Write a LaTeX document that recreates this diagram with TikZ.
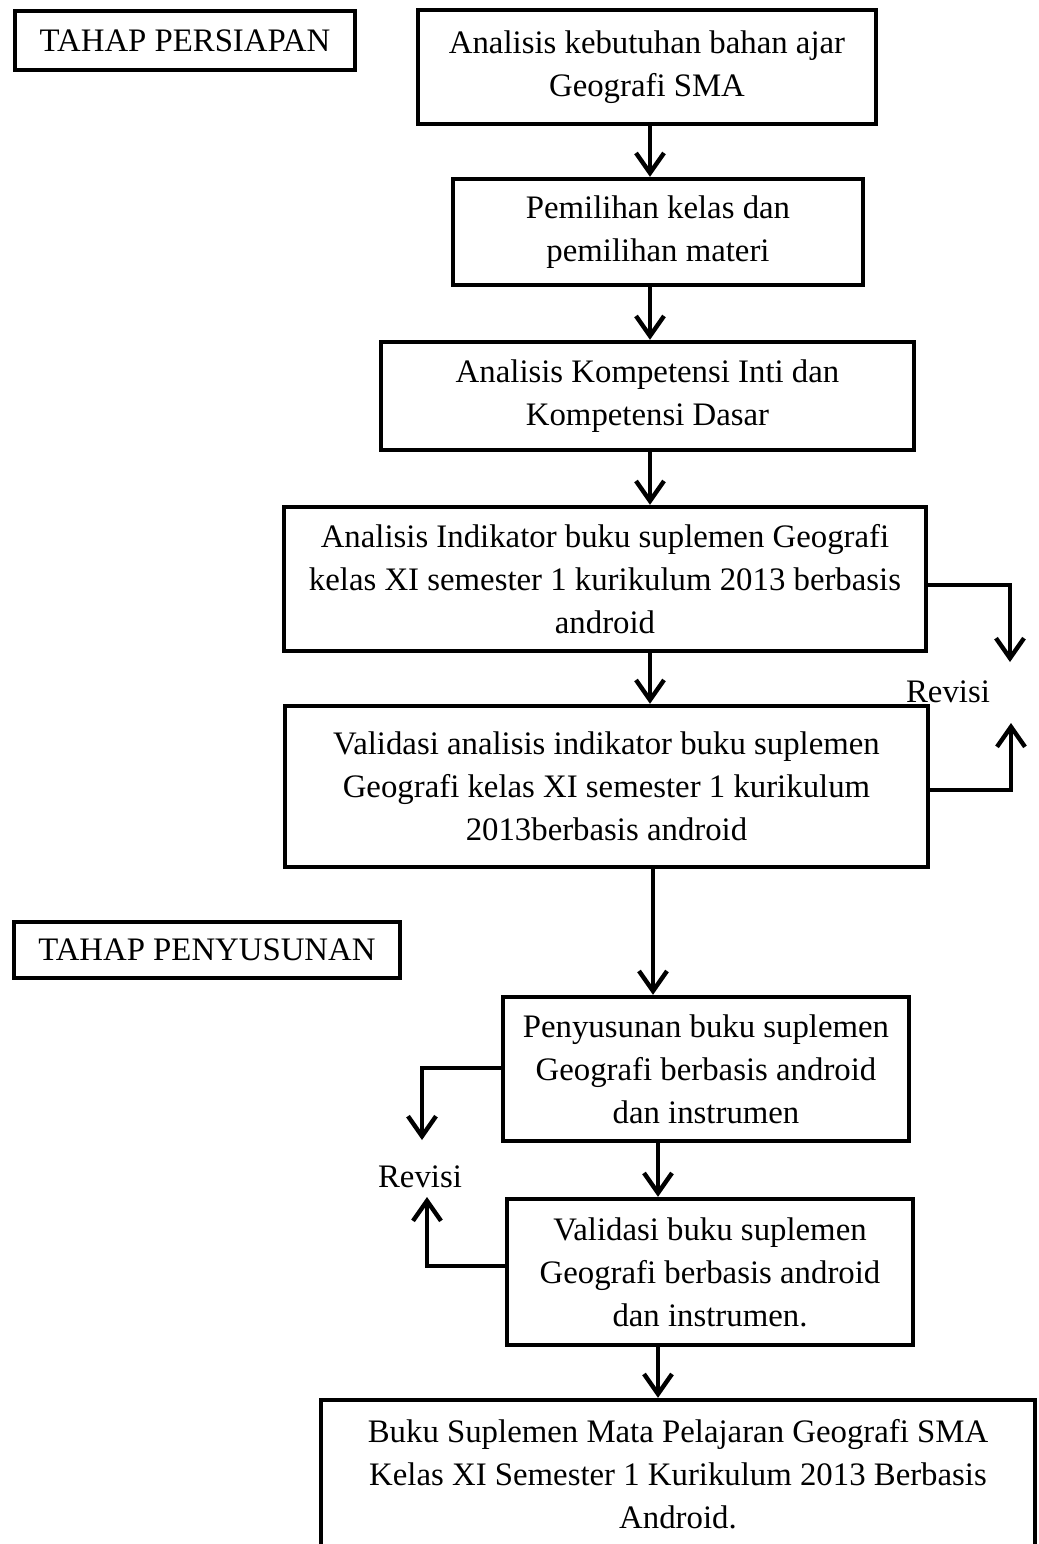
\documentclass[tikz,border=0pt]{standalone}
\usepackage{fontspec}
\setmainfont{Liberation Serif}
\usetikzlibrary{arrows.meta, calc}

\begin{document}
\begin{tikzpicture}[
    x=0.5pt, y=-0.5pt,
    >={Straight Barb[length=10pt, width=14pt]},
    font=\fontsize{16.4}{21.5}\selectfont,
    block/.style = {draw, rectangle, line width=2.2pt, inner sep=0pt, align=center},
    stage/.style = {draw, rectangle, line width=2.2pt, inner sep=0pt, align=center},
    arrow/.style = {->, line width=2.2pt}
]
\useasboundingbox (0,0) rectangle (1039,1544);

% =========================================================
% STAGE LABELS
% =========================================================
\node[stage, minimum width=170pt, minimum height=29.5pt] (persiapan) at (185,40.5) {TAHAP PERSIAPAN};
\node[stage, minimum width=193pt, minimum height=28pt] (penyusunan) at (207,950) {TAHAP PENYUSUNAN};

% =========================================================
% MAIN CHAIN: Persiapan
% =========================================================
\node[block, minimum width=229pt, minimum height=57pt] (kebutuhan) at (647,67)
    {Analisis kebutuhan bahan ajar\\Geografi SMA};
\node[block, minimum width=205pt, minimum height=53pt] (kelas) at (658,232)
    {Pemilihan kelas dan\\pemilihan materi};
\node[block, minimum width=266.5pt, minimum height=54pt] (kikd) at (647.5,396)
    {Analisis Kompetensi Inti dan\\Kompetensi Dasar};
\node[block, minimum width=321pt, minimum height=72pt] (indikator) at (605,579)
    {Analisis Indikator buku suplemen Geografi\\kelas XI semester 1 kurikulum 2013 berbasis\\android};
\node[block, minimum width=321.5pt, minimum height=80.5pt] (valind) at (606.5,786.5)
    {Validasi analisis indikator buku suplemen\\Geografi kelas XI semester 1 kurikulum\\2013berbasis android};

% =========================================================
% MAIN CHAIN: Penyusunan
% =========================================================
\node[block, minimum width=203pt, minimum height=72pt] (susun) at (706,1069)
    {Penyusunan buku suplemen\\Geografi berbasis android\\dan instrumen};
\node[block, minimum width=203pt, minimum height=73pt] (valbuku) at (710,1272)
    {Validasi buku suplemen\\Geografi berbasis android\\dan instrumen.};
\node[block, minimum width=357pt, minimum height=74pt] (produk) at (678,1474)
    {Buku Suplemen Mata Pelajaran Geografi SMA\\Kelas XI Semester 1 Kurikulum 2013 Berbasis\\Android.};

% Revision labels
\node (revisiR) at (948,692) {Revisi};
\node (revisiL) at (420,1177) {Revisi};

% =========================================================
% WIRING: DOWNWARD FLOW
% =========================================================
\coordinate (spineA) at (650,0);
\coordinate (spineB) at (653,0);
\coordinate (spineC) at (658,0);
\draw[arrow] (kebutuhan.south -| spineA) -- (kelas.north -| spineA);
\draw[arrow] (kelas.south -| spineA) -- (kikd.north -| spineA);
\draw[arrow] (kikd.south -| spineA) -- (indikator.north -| spineA);
\draw[arrow] (indikator.south -| spineA) -- (valind.north -| spineA);
\draw[arrow] (valind.south -| spineB) -- (susun.north -| spineB);
\draw[arrow] (susun.south -| spineC) -- (valbuku.north -| spineC);
\draw[arrow] (valbuku.south -| spineC) -- (produk.north -| spineC);

% =========================================================
% WIRING: REVISION LOOPS
% =========================================================
\coordinate (r_top) at (1010,662);
\coordinate (r_bot) at (1011,723);
\draw[arrow] ($(indikator.east)+(0,6)$) -| (r_top);
\draw[arrow] ($(valind.east)+(0,3.5)$) -| (r_bot);

\coordinate (l_top) at (422,1140);
\coordinate (l_bot) at (427,1197);
\draw[arrow] ($(susun.west)+(0,-1)$) -| (l_top);
\draw[arrow] ($(valbuku.west)+(0,-6)$) -| (l_bot);

\end{tikzpicture}
\end{document}
